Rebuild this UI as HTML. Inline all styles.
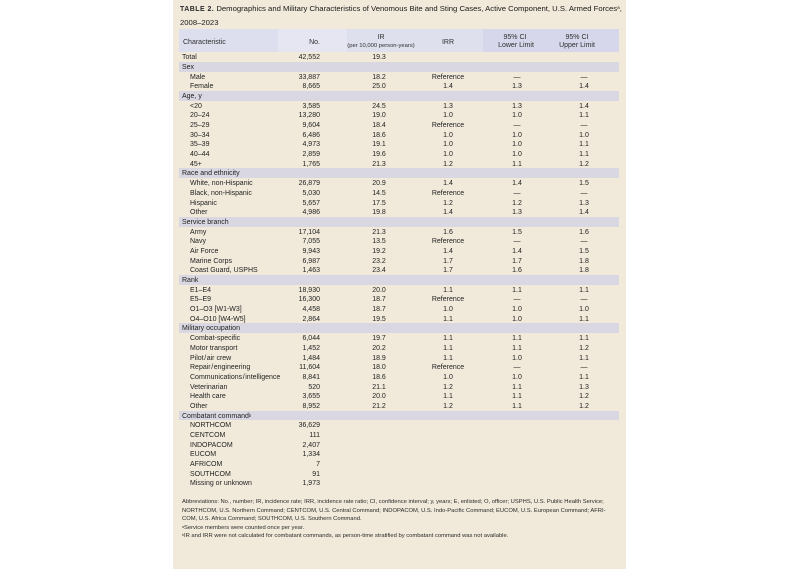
<!DOCTYPE html>
<html><head><meta charset="utf-8"><style>
*{margin:0;padding:0;box-sizing:border-box}
html,body{width:800px;height:569px;background:#fff;overflow:hidden}
body{position:relative;font-family:"Liberation Sans",Arial,sans-serif;color:#1e1e1e}
#panel{position:absolute;left:173px;top:0;width:453px;height:569px;background:#f1eadb}
.t{position:absolute;left:180px;white-space:nowrap;font-size:7.7px;line-height:12px;color:#1a1a1a}
.tb{font-weight:bold;font-size:7px;letter-spacing:0.45px;color:#2a2a2a}
sup{font-size:60%;vertical-align:top;position:relative;top:-1px}
.h{position:absolute;top:29px;height:23.2px}
.ht{position:absolute;white-space:nowrap;font-size:7px;color:#2e2e2e;text-align:center}
#rows{position:absolute;left:179px;top:52.2px;width:440px}
.r{position:relative;height:9.69px;line-height:9.69px;font-size:7px;white-space:nowrap}
.r span{position:absolute;top:1px}
.b{background:#d9d8e2}
.l{left:3px}
.i{left:11px}
.n{left:90px;width:51px;text-align:right}
.c1{left:170px;width:60px;text-align:center}
.c2{left:239px;width:60px;text-align:center}
.c3{left:308px;width:60px;text-align:center}
.c4{left:375px;width:60px;text-align:center}
.f{position:absolute;left:182px;white-space:nowrap;font-size:5.82px;line-height:8px;color:#2a2a2a}
</style></head><body>
<div id="panel"></div>
<div class="t" style="top:3px"><span class="tb">TABLE 2.</span> Demographics and Military Characteristics of Venomous Bite and Sting Cases, Active Component, U.S. Armed Forces<sup>a</sup>,</div>
<div class="t" style="top:16.5px">2008–2023</div>

<div class="h" style="left:179px;width:99px;background:#dedfee"></div>
<div class="h" style="left:278px;width:69px;background:#e6e6f2"></div>
<div class="h" style="left:347px;width:136px;background:#dfe0ee"></div>
<div class="h" style="left:483px;width:136px;background:#d6d7ea"></div>

<div class="ht" style="left:183px;top:39px;text-align:left">Characteristic</div>
<div class="ht" style="left:290px;width:30px;top:39px;text-align:right">No.</div>
<div class="ht" style="left:349px;width:64px;top:33.5px">IR</div>
<div class="ht" style="left:341px;width:80px;top:42.5px;font-size:5.83px">(per 10,000 person-years)</div>
<div class="ht" style="left:418px;width:60px;top:39px">IRR</div>
<div class="ht" style="left:485px;width:60px;top:33.5px">95% CI</div>
<div class="ht" style="left:486px;width:60px;top:42px">Lower Limit</div>
<div class="ht" style="left:547px;width:60px;top:33.5px">95% CI</div>
<div class="ht" style="left:547px;width:60px;top:42px">Upper Limit</div>

<div id="rows">
<div class="r"><span class="l">Total</span><span class="n">42,552</span><span class="c1">19.3</span></div>
<div class="r b"><span class="l">Sex</span></div>
<div class="r"><span class="i">Male</span><span class="n">33,887</span><span class="c1">18.2</span><span class="c2">Reference</span><span class="c3">—</span><span class="c4">—</span></div>
<div class="r"><span class="i">Female</span><span class="n">8,665</span><span class="c1">25.0</span><span class="c2">1.4</span><span class="c3">1.3</span><span class="c4">1.4</span></div>
<div class="r b"><span class="l">Age, y</span></div>
<div class="r"><span class="i">&lt;20</span><span class="n">3,585</span><span class="c1">24.5</span><span class="c2">1.3</span><span class="c3">1.3</span><span class="c4">1.4</span></div>
<div class="r"><span class="i">20–24</span><span class="n">13,280</span><span class="c1">19.0</span><span class="c2">1.0</span><span class="c3">1.0</span><span class="c4">1.1</span></div>
<div class="r"><span class="i">25–29</span><span class="n">9,604</span><span class="c1">18.4</span><span class="c2">Reference</span><span class="c3">—</span><span class="c4">—</span></div>
<div class="r"><span class="i">30–34</span><span class="n">6,486</span><span class="c1">18.6</span><span class="c2">1.0</span><span class="c3">1.0</span><span class="c4">1.0</span></div>
<div class="r"><span class="i">35–39</span><span class="n">4,973</span><span class="c1">19.1</span><span class="c2">1.0</span><span class="c3">1.0</span><span class="c4">1.1</span></div>
<div class="r"><span class="i">40–44</span><span class="n">2,859</span><span class="c1">19.6</span><span class="c2">1.0</span><span class="c3">1.0</span><span class="c4">1.1</span></div>
<div class="r"><span class="i">45+</span><span class="n">1,765</span><span class="c1">21.3</span><span class="c2">1.2</span><span class="c3">1.1</span><span class="c4">1.2</span></div>
<div class="r b"><span class="l">Race and ethnicity</span></div>
<div class="r"><span class="i">White, non-Hispanic</span><span class="n">26,879</span><span class="c1">20.9</span><span class="c2">1.4</span><span class="c3">1.4</span><span class="c4">1.5</span></div>
<div class="r"><span class="i">Black, non-Hispanic</span><span class="n">5,030</span><span class="c1">14.5</span><span class="c2">Reference</span><span class="c3">—</span><span class="c4">—</span></div>
<div class="r"><span class="i">Hispanic</span><span class="n">5,657</span><span class="c1">17.5</span><span class="c2">1.2</span><span class="c3">1.2</span><span class="c4">1.3</span></div>
<div class="r"><span class="i">Other</span><span class="n">4,986</span><span class="c1">19.8</span><span class="c2">1.4</span><span class="c3">1.3</span><span class="c4">1.4</span></div>
<div class="r b"><span class="l">Service branch</span></div>
<div class="r"><span class="i">Army</span><span class="n">17,104</span><span class="c1">21.3</span><span class="c2">1.6</span><span class="c3">1.5</span><span class="c4">1.6</span></div>
<div class="r"><span class="i">Navy</span><span class="n">7,055</span><span class="c1">13.5</span><span class="c2">Reference</span><span class="c3">—</span><span class="c4">—</span></div>
<div class="r"><span class="i">Air Force</span><span class="n">9,943</span><span class="c1">19.2</span><span class="c2">1.4</span><span class="c3">1.4</span><span class="c4">1.5</span></div>
<div class="r"><span class="i">Marine Corps</span><span class="n">6,987</span><span class="c1">23.2</span><span class="c2">1.7</span><span class="c3">1.7</span><span class="c4">1.8</span></div>
<div class="r"><span class="i">Coast Guard, USPHS</span><span class="n">1,463</span><span class="c1">23.4</span><span class="c2">1.7</span><span class="c3">1.6</span><span class="c4">1.8</span></div>
<div class="r b"><span class="l">Rank</span></div>
<div class="r"><span class="i">E1–E4</span><span class="n">18,930</span><span class="c1">20.0</span><span class="c2">1.1</span><span class="c3">1.1</span><span class="c4">1.1</span></div>
<div class="r"><span class="i">E5–E9</span><span class="n">16,300</span><span class="c1">18.7</span><span class="c2">Reference</span><span class="c3">—</span><span class="c4">—</span></div>
<div class="r"><span class="i">O1–O3 [W1-W3]</span><span class="n">4,458</span><span class="c1">18.7</span><span class="c2">1.0</span><span class="c3">1.0</span><span class="c4">1.0</span></div>
<div class="r"><span class="i">O4–O10 [W4-W5]</span><span class="n">2,864</span><span class="c1">19.5</span><span class="c2">1.1</span><span class="c3">1.0</span><span class="c4">1.1</span></div>
<div class="r b"><span class="l">Military occupation</span></div>
<div class="r"><span class="i">Combat-specific</span><span class="n">6,044</span><span class="c1">19.7</span><span class="c2">1.1</span><span class="c3">1.1</span><span class="c4">1.1</span></div>
<div class="r"><span class="i">Motor transport</span><span class="n">1,452</span><span class="c1">20.2</span><span class="c2">1.1</span><span class="c3">1.1</span><span class="c4">1.2</span></div>
<div class="r"><span class="i">Pilot&#8202;/&#8202;air crew</span><span class="n">1,484</span><span class="c1">18.9</span><span class="c2">1.1</span><span class="c3">1.0</span><span class="c4">1.1</span></div>
<div class="r"><span class="i">Repair&#8202;/&#8202;engineering</span><span class="n">11,604</span><span class="c1">18.0</span><span class="c2">Reference</span><span class="c3">—</span><span class="c4">—</span></div>
<div class="r"><span class="i">Communications&#8202;/&#8202;intelligence</span><span class="n">8,841</span><span class="c1">18.6</span><span class="c2">1.0</span><span class="c3">1.0</span><span class="c4">1.1</span></div>
<div class="r"><span class="i">Veterinarian</span><span class="n">520</span><span class="c1">21.1</span><span class="c2">1.2</span><span class="c3">1.1</span><span class="c4">1.3</span></div>
<div class="r"><span class="i">Health care</span><span class="n">3,655</span><span class="c1">20.0</span><span class="c2">1.1</span><span class="c3">1.1</span><span class="c4">1.2</span></div>
<div class="r"><span class="i">Other</span><span class="n">8,952</span><span class="c1">21.2</span><span class="c2">1.2</span><span class="c3">1.1</span><span class="c4">1.2</span></div>
<div class="r b"><span class="l">Combatant command<sup>b</sup></span></div>
<div class="r"><span class="i">NORTHCOM</span><span class="n">36,629</span></div>
<div class="r"><span class="i">CENTCOM</span><span class="n">111</span></div>
<div class="r"><span class="i">INDOPACOM</span><span class="n">2,407</span></div>
<div class="r"><span class="i">EUCOM</span><span class="n">1,334</span></div>
<div class="r"><span class="i">AFRICOM</span><span class="n">7</span></div>
<div class="r"><span class="i">SOUTHCOM</span><span class="n">91</span></div>
<div class="r"><span class="i">Missing or unknown</span><span class="n">1,973</span></div>
</div>

<div class="f" style="top:497.5px">Abbreviations: No., number; IR, incidence rate; IRR, incidence rate ratio; CI, confidence interval; y, years; E, enlisted; O, officer; USPHS, U.S. Public Health Service;</div>
<div class="f" style="top:506.5px">NORTHCOM, U.S. Northern Command; CENTCOM, U.S. Central Command; INDOPACOM, U.S. Indo-Pacific Command; EUCOM, U.S. European Command; AFRI-</div>
<div class="f" style="top:514.5px">COM, U.S. Africa Command; SOUTHCOM, U.S. Southern Command.</div>
<div class="f" style="top:523.5px"><sup>a</sup>Service members were counted once per year.</div>
<div class="f" style="top:532px"><sup>b</sup>IR and IRR were not calculated for combatant commands, as person-time stratified by combatant command was not available.</div>
</body></html>
